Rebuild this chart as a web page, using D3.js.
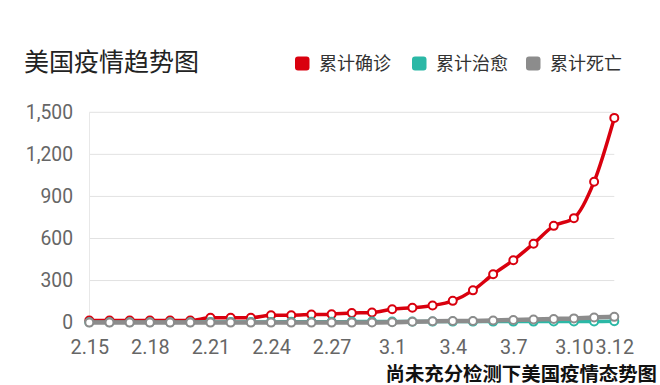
<!DOCTYPE html>
<html><head><meta charset="utf-8">
<script src="https://cdn.jsdelivr.net/npm/d3@7"></script>
<style>body{margin:0;background:#fff}svg{display:block}</style>
</head><body>
<svg id="c" width="660" height="385"></svg>
<script>
const dates = ["2.15","2.16","2.17","2.18","2.19","2.20","2.21","2.22","2.23","2.24","2.25","2.26","2.27","2.28","2.29","3.1","3.2","3.3","3.4","3.5","3.6","3.7","3.8","3.9","3.10","3.11","3.12"];
const confirmed = [15,15,15,15,15,15,35,35,35,53,53,57,60,68,72,95,106,122,155,230,345,445,563,690,745,1005,1460];
const recovered = [3,3,3,3,3,3,5,5,5,5,6,6,6,7,7,7,7,7,7,7,7,7,7,8,8,8,10];
const deaths = [0,0,0,0,0,0,0,0,0,0,0,0,0,0,1,2,6,9,11,12,15,19,22,26,30,37,41];
const xTicks = ["2.15","2.18","2.21","2.24","2.27","3.1","3.4","3.7","3.10","3.12"];
const yTicks = [0,300,600,900,1200,1500];
const seriesNames = ["累计确诊","累计治愈","累计死亡"];
const colors = ["#d9000e","#2bb8a6","#8c8c8c"];

const svg = d3.select("#c");
const x = d3.scalePoint().domain(dates).range([89.3, 614.3]);
const y = d3.scaleLinear().domain([0,1500]).range([322.6, 112.3]);
const font = "Roboto, 'Noto Sans CJK SC', sans-serif";

// grid
svg.append("g").selectAll("line").data(yTicks.filter(d=>d>0)).join("line")
  .attr("x1", 89.3).attr("x2", 614.3)
  .attr("y1", d=>y(d)).attr("y2", d=>y(d))
  .attr("stroke", "#e2e2e2").attr("stroke-width", 1);
svg.append("line").attr("x1",89.5).attr("x2",89.5).attr("y1",y(1500)).attr("y2",y(0))
  .attr("stroke","#e8e8e8").attr("stroke-width",1);

// y axis labels
const yAxis = d3.axisLeft(y).tickValues(yTicks).tickSize(0).tickPadding(16).tickFormat(d3.format(","));
const ya = svg.append("g").attr("transform","translate(89,0)").call(yAxis);
ya.select(".domain").remove();
ya.selectAll("text").attr("font-family", font).attr("font-size", 19.3).attr("fill", "#666");

// x axis labels
const xAxis = d3.axisBottom(x).tickValues(xTicks).tickSize(0).tickPadding(0);
const xa = svg.append("g").attr("transform","translate(0,340)").call(xAxis);
xa.select(".domain").remove();
xa.selectAll("text").attr("font-family", font).attr("font-size", 19.8).attr("fill", "#666").attr("dy","0.72em");

// series
const series = [confirmed, recovered, deaths];
const widths = [3.5, 3.5, 4.5];
series.forEach((vals, i) => {
  const data = dates.map((d, k) => ({d, v: vals[k]}));
  const line = d3.line().x(p=>x(p.d)).y(p=>y(p.v)).curve(d3.curveMonotoneX);
  svg.append("path").datum(data).attr("d", line)
    .attr("fill","none").attr("stroke", colors[i]).attr("stroke-width", widths[i])
    .attr("stroke-linejoin","round").attr("stroke-linecap","round");
  svg.append("g").selectAll("circle").data(data).join("circle")
    .attr("cx", p=>x(p.d)).attr("cy", p=>y(p.v)).attr("r", 4)
    .attr("fill", "#fff").attr("stroke", colors[i]).attr("stroke-width", 2);
});

// title
svg.append("text").attr("x", 24).attr("y", 71).text("美国疫情趋势图")
  .attr("font-family", "'Noto Sans CJK SC', sans-serif").attr("font-size", 25).attr("fill", "#222");

// legend
const legX = [295, 412, 526];
seriesNames.forEach((n, i) => {
  svg.append("rect").attr("x", legX[i]).attr("y", 56.5).attr("width", 14.5).attr("height", 14)
    .attr("rx", 3).attr("fill", colors[i]);
  svg.append("text").attr("x", legX[i] + 24).attr("y", 70).text(n)
    .attr("font-family", "'Noto Sans CJK SC', sans-serif").attr("font-size", 18).attr("fill", "#333");
});

// footer
svg.append("text").attr("x", 657).attr("y", 380.5).attr("text-anchor","end")
  .text("尚未充分检测下美国疫情态势图")
  .attr("font-family", "'Noto Sans CJK SC', sans-serif").attr("font-weight","bold")
  .attr("font-size", 19.4).attr("fill", "#111");
</script>
</body></html>
